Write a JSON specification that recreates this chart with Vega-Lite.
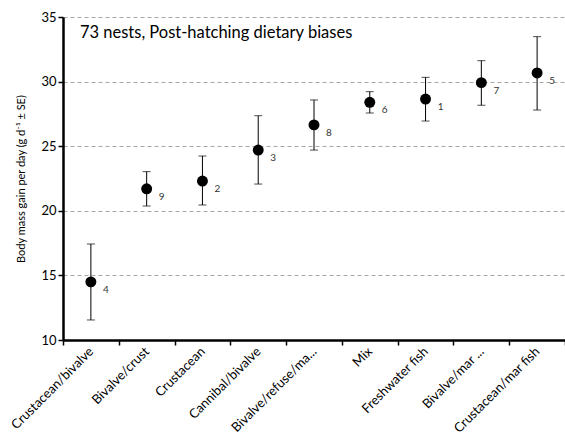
{
  "$schema": "https://vega.github.io/schema/vega-lite/v6.json",
  "autosize": {"type": "none"},
  "padding": {"left": 63, "top": 17, "right": 0, "bottom": 101},
  "width": 502,
  "height": 323,
  "background": "white",
  "config": {"view": {"stroke": null}, "font": "Lato"},
  "data": {"values": [
    {"diet": "Crustacean/bivalve", "mean": 14.5, "lo": 11.55, "hi": 17.43, "n": "4"},
    {"diet": "Bivalve/crust", "mean": 21.7, "lo": 20.37, "hi": 23.03, "n": "9"},
    {"diet": "Crustacean", "mean": 22.3, "lo": 20.45, "hi": 24.24, "n": "2"},
    {"diet": "Cannibal/bivalve", "mean": 24.7, "lo": 22.07, "hi": 27.36, "n": "3"},
    {"diet": "Bivalve/refuse/ma...", "mean": 26.65, "lo": 24.7, "hi": 28.58, "n": "8"},
    {"diet": "Mix", "mean": 28.4, "lo": 27.57, "hi": 29.22, "n": "6"},
    {"diet": "Freshwater fish", "mean": 28.65, "lo": 26.95, "hi": 30.33, "n": "1"},
    {"diet": "Bivalve/mar ...", "mean": 29.92, "lo": 28.17, "hi": 31.62, "n": "7"},
    {"diet": "Crustacean/mar fish", "mean": 30.67, "lo": 27.8, "hi": 33.48, "n": "5"}
  ]},
  "encoding": {
    "x": {
      "field": "diet", "type": "nominal", "sort": null,
      "scale": {"paddingInner": 0, "paddingOuter": 0},
      "axis": {
        "title": null, "labelAngle": -45, "labelAlign": "right", "labelBaseline": "middle",
        "labelFontSize": 13, "labelColor": "#000", "labelPadding": 4, "labelLimit": 200,
        "tickBand": "extent", "tickSize": 5, "tickColor": "#000", "tickWidth": 1.5,
        "domainColor": "#000", "domainWidth": 2.5, "grid": false
      }
    }
  },
  "layer": [
    {
      "mark": {"type": "rule", "color": "#000", "strokeWidth": 1},
      "encoding": {
        "y": {
          "field": "lo", "type": "quantitative",
          "scale": {"domain": [10, 35], "nice": false, "zero": false},
          "axis": {
            "title": "Body mass gain per day (g d⁻¹ ± SE)", "titleFontSize": 11, "titleFontWeight": "normal",
            "titleColor": "#000", "titlePadding": 14,
            "values": [10, 15, 20, 25, 30, 35], "labelFontSize": 13, "labelColor": "#000",
            "tickSize": 5, "tickColor": "#000", "tickWidth": 1.5,
            "domainColor": "#000", "domainWidth": 2.5,
            "grid": true, "gridColor": "#a6a6a6", "gridDash": [4, 3], "gridWidth": 1
          }
        },
        "y2": {"field": "hi"}
      }
    },
    {
      "mark": {"type": "tick", "color": "#000", "size": 8, "thickness": 1, "orient": "horizontal"},
      "encoding": {"y": {"field": "lo", "type": "quantitative"}}
    },
    {
      "mark": {"type": "tick", "color": "#000", "size": 8, "thickness": 1, "orient": "horizontal"},
      "encoding": {"y": {"field": "hi", "type": "quantitative"}}
    },
    {
      "mark": {"type": "point", "filled": true, "color": "#000", "opacity": 1, "size": 120},
      "encoding": {"y": {"field": "mean", "type": "quantitative"}}
    },
    {
      "mark": {"type": "text", "color": "#333", "fontSize": 10, "dx": 15, "dy": 8, "align": "center"},
      "encoding": {"y": {"field": "mean", "type": "quantitative"}, "text": {"field": "n"}}
    },
    {
      "data": {"values": [{"t": "73 nests, Post-hatching dietary biases"}]},
      "mark": {"type": "text", "fontSize": 16.5, "color": "#000", "align": "left", "baseline": "middle", "dx": -11},
      "encoding": {
        "x": {"datum": "Crustacean/bivalve"},
        "y": {"datum": 33.8},
        "text": {"field": "t"}
      }
    }
  ]
}
